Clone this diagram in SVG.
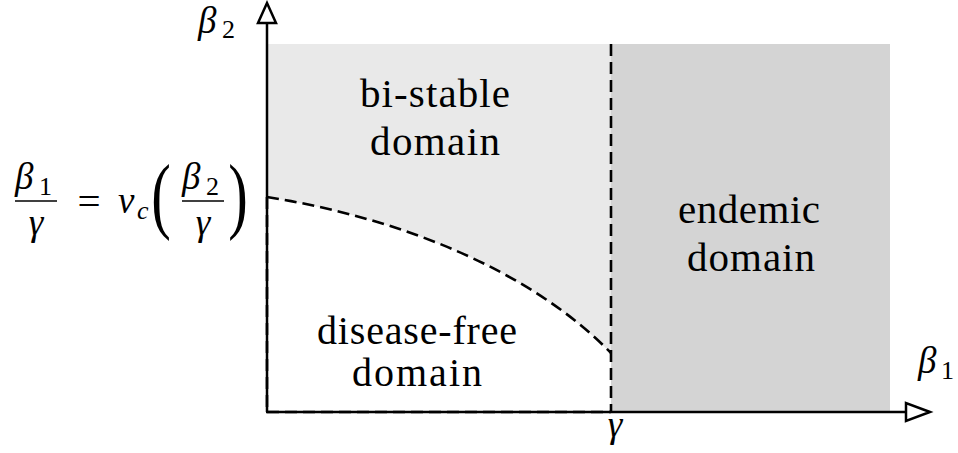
<svg xmlns="http://www.w3.org/2000/svg" width="958" height="453" viewBox="0 0 958 453" font-family="Liberation Serif, Times New Roman, DejaVu Serif, Noto Serif, serif">
<rect width="958" height="453" fill="#fff"/>
<g id="regions">
<path id="bistable-area" d="M267,44 L611,44 L611,353 C530,270 400,218 267,197 Z" fill="#e9e9e9"/>
<rect id="endemic-area" x="611" y="44" width="279" height="368" fill="#d4d4d4"/>
</g>
<g id="axes" stroke="#000" stroke-width="2.5">
<line x1="267" y1="412" x2="267" y2="23" fill="none"/>
<polygon points="267,3 258,23 276,23" fill="#fff"/>
<line x1="266" y1="412" x2="906" y2="412" fill="none"/>
<polygon points="930,412 906,403 906,421" fill="#fff"/>
</g>
<g id="connectors" stroke="#000" stroke-width="2.6" fill="none" stroke-dasharray="12 6">
<path d="M267,197 C400,218 530,270 611,353"/>
<line x1="611" y1="44" x2="611" y2="412"/>
<line x1="267" y1="197" x2="267" y2="412"/>
<line x1="267" y1="412" x2="611" y2="412"/>
</g>
<g id="bistable" font-size="41" text-anchor="middle">
<text x="435" y="107" textLength="150">bi-stable</text>
<text x="435" y="155" textLength="130">domain</text>
</g>
<g id="disease-free" font-size="40" text-anchor="middle">
<text x="417" y="344" textLength="200">disease-free</text>
<text x="417" y="386" textLength="130">domain</text>
</g>
<g id="endemic" font-size="41" text-anchor="middle">
<text x="749" y="223" textLength="142">endemic</text>
<text x="751" y="271" textLength="128">domain</text>
</g>
<g id="axis-labels">
<text font-size="37" font-style="italic" x="198" y="33">β</text>
<text font-size="26" x="222" y="38">2</text>
<text font-size="37" font-style="italic" x="918" y="373">β</text>
<text font-size="26" x="941" y="379">1</text>
<text font-size="37" font-style="italic" text-anchor="middle" x="615" y="437">γ</text>
</g>
<g id="formula">
<text font-size="37" font-style="italic" x="15" y="189">β</text>
<text font-size="26" x="39" y="195">1</text>
<line x1="15" y1="201" x2="57" y2="201" stroke="#000" stroke-width="1.6"/>
<text font-size="37" font-style="italic" text-anchor="middle" x="36" y="235">γ</text>
<text font-size="41" text-anchor="middle" x="89" y="215">=</text>
<text font-size="37" font-style="italic" x="118" y="213">v</text>
<text font-size="26" font-style="italic" x="137" y="219">c</text>
<text font-size="84" text-anchor="middle" transform="translate(161,223) scale(0.7,1)">(</text>
<text font-size="37" font-style="italic" x="182" y="189">β</text>
<text font-size="26" x="206" y="195">2</text>
<line x1="182" y1="201" x2="224" y2="201" stroke="#000" stroke-width="1.6"/>
<text font-size="37" font-style="italic" text-anchor="middle" x="203" y="235">γ</text>
<text font-size="84" text-anchor="middle" transform="translate(238,223) scale(0.7,1)">)</text>
</g>
</svg>
